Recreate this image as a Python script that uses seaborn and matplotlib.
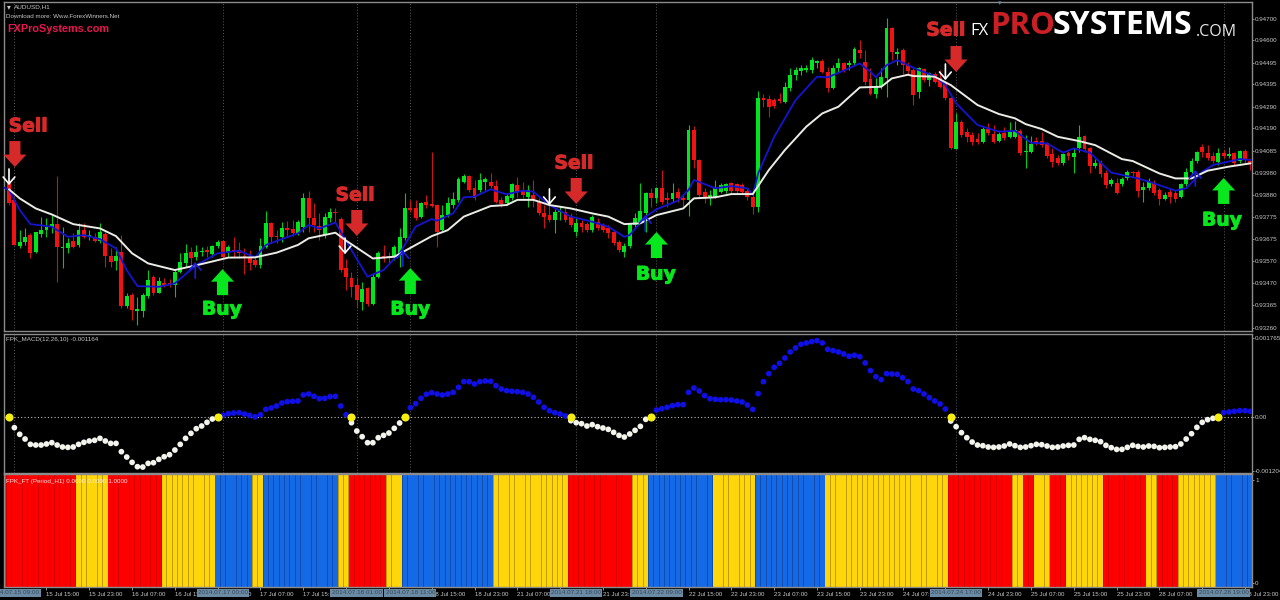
import numpy as np
import pandas as pd
import matplotlib
matplotlib.use("Agg")
import matplotlib.pyplot as plt
import matplotlib.patheffects as pe
import seaborn as sns

# ---- candle data, price in points (1e-5) ----
opens = [93942,93857,93643,93659,93693,93615,93696,93716,93729,93744,
93631,93631,93667,93647,93716,93688,93682,93667,93696,93595,
93572,93615,93362,93414,93341,93341,93409,93499,93424,93471,
93468,93460,93522,93561,93615,93589,93612,93623,93605,93642,
93665,93615,93623,93623,93595,93589,93577,93553,93639,93748,
93690,93682,93724,93721,93701,93732,93867,93771,93735,93693,
93771,93802,93766,93538,93494,93460,93383,93445,93370,93499,
93595,93595,93589,93600,93678,93817,93817,93775,93848,93838,
93833,93716,93786,93833,93857,93942,93970,93911,93903,93942,
93942,93921,93857,93841,93864,93926,93903,93872,93880,93848,
93794,93786,93763,93799,93802,93779,93706,93748,93744,93716,
93755,93740,93724,93706,93662,93615,93642,93740,93755,93794,
93890,93864,93911,93864,93859,93895,93864,93857,94182,94043,
93895,93869,93872,93895,93900,93934,93931,93926,93900,93872,
93822,94333,94327,94322,94325,94314,94376,94439,94459,94462,
94462,94493,94505,94454,94376,94470,94493,94485,94496,94555,
94501,94418,94350,94381,94423,94656,94536,94555,94485,94462,
94361,94465,94415,94443,94423,94400,94330,94094,94218,94171,
94159,94139,94128,94187,94164,94133,94167,94148,94151,94179,
94078,94081,94133,94133,94120,94071,94050,94030,94074,94055,
94097,94154,94097,94015,94035,93984,93929,93937,93931,93957,
93988,93988,93903,93911,93934,93903,93861,93895,93887,93872,
93931,93988,94039,94105,94077,94061,94035,94077,94063,94074,
94039,94086,94039]
highs = [93950,93872,93716,93724,93701,93709,93779,93771,93786,93970,
93732,93678,93701,93748,93748,93716,93701,93748,93709,93631,
93639,93693,93421,93421,93406,93421,93530,93507,93499,93491,
93487,93530,93608,93651,93639,93647,93636,93642,93647,93670,
93670,93647,93685,93662,93631,93623,93592,93678,93806,93755,
93716,93755,93760,93763,93763,93890,93898,93841,93794,93794,
93817,93817,93779,93580,93522,93499,93476,93452,93515,93620,
93647,93615,93647,93724,93890,93857,93857,93848,93880,94081,
93838,93833,93872,93895,93965,93977,93973,93950,93984,93965,
93980,93950,93872,93887,93934,93965,93942,93926,93950,93864,
93833,93833,93813,93828,93817,93794,93779,93763,93755,93786,
93771,93751,93740,93716,93670,93654,93751,93794,93934,93895,
93911,93918,93996,93895,93934,93911,93880,94206,94201,94046,
93911,93903,93950,93934,93937,93942,93937,93934,93911,93887,
94366,94350,94345,94330,94353,94408,94473,94477,94485,94485,
94524,94508,94512,94477,94485,94516,94501,94508,94571,94602,
94555,94470,94423,94470,94703,94664,94563,94563,94501,94470,
94477,94470,94454,94454,94462,94408,94338,94260,94229,94190,
94175,94167,94198,94213,94206,94175,94198,94221,94226,94185,
94159,94154,94151,94175,94128,94097,94066,94077,94086,94097,
94206,94159,94105,94046,94043,93996,93957,93957,93965,93996,
93993,93996,93942,93957,93950,93911,93895,93911,93903,93937,
94004,94050,94086,94117,94112,94081,94097,94089,94105,94081,
94089,94092,94050]
lows = [93833,93645,93631,93647,93584,93608,93685,93685,93701,93476,
93538,93608,93631,93639,93678,93670,93662,93654,93546,93546,
93530,93351,93351,93297,93274,93313,93398,93414,93421,93452,
93449,93406,93515,93546,93538,93577,93595,93592,93592,93631,
93584,93592,93592,93584,93511,93530,93546,93538,93631,93654,
93654,93662,93685,93688,93693,93709,93709,93709,93670,93678,
93755,93748,93522,93437,93406,93351,93344,93362,93367,93491,
93569,93561,93577,93546,93670,93802,93763,93771,93817,93822,
93636,93709,93779,93817,93848,93934,93895,93857,93895,93903,
93911,93841,93825,93833,93857,93872,93864,93825,93825,93786,
93724,93755,93701,93763,93755,93732,93688,93706,93709,93709,
93716,93709,93678,93647,93615,93589,93631,93732,93748,93709,
93825,93841,93838,93825,93848,93848,93817,93782,94004,93872,
93841,93833,93864,93887,93890,93887,93887,93884,93857,93791,
93802,94291,94244,94283,94307,94307,94366,94415,94439,94454,
94446,94470,94446,94361,94372,94454,94454,94462,94485,94516,
94392,94345,94330,94372,94338,94508,94485,94443,94439,94299,
94330,94408,94387,94400,94376,94322,94092,94092,94151,94128,
94112,94117,94120,94159,94120,94128,94136,94144,94144,94066,
94004,94077,94112,94105,94050,94011,94019,94019,94043,93980,
94081,94081,93980,94004,93965,93911,93921,93884,93921,93950,
93965,93872,93848,93903,93880,93833,93857,93844,93848,93864,
93921,93977,94027,94058,94043,94027,94019,94050,94050,94019,
94027,94027,93996]
closes = [93841,93647,93662,93685,93611,93706,93716,93732,93744,93636,
93639,93657,93639,93716,93685,93693,93667,93706,93595,93569,
93597,93362,93409,93344,93347,93414,93483,93421,93479,93460,
93460,93519,93569,93611,93584,93615,93620,93612,93642,93662,
93592,93636,93615,93608,93584,93561,93553,93643,93748,93685,
93682,93727,93716,93701,93755,93867,93771,93740,93716,93775,
93799,93794,93530,93496,93449,93390,93440,93372,93499,93608,
93584,93584,93639,93685,93817,93810,93771,93841,93833,93828,
93709,93786,93841,93861,93953,93970,93903,93864,93950,93953,
93921,93848,93838,93876,93931,93895,93880,93903,93857,93794,
93775,93763,93802,93806,93763,93740,93751,93732,93716,93775,
93724,93716,93701,93657,93623,93643,93744,93771,93806,93887,
93864,93911,93848,93857,93890,93864,93857,94182,94043,93880,
93869,93880,93911,93926,93931,93900,93900,93895,93869,93825,
94330,94322,94291,94294,94317,94384,94439,94462,94470,94470,
94508,94505,94454,94376,94470,94493,94462,94493,94558,94540,
94408,94350,94381,94428,94656,94547,94547,94485,94459,94345,
94470,94415,94446,94408,94381,94330,94097,94218,94159,94151,
94128,94128,94187,94167,94128,94164,94144,94175,94182,94077,
94086,94117,94123,94112,94061,94035,94027,94071,94061,94074,
94151,94094,94016,94030,93976,93926,93950,93890,93953,93988,
93980,93900,93918,93942,93890,93861,93880,93872,93861,93931,
93988,94039,94081,94078,94050,94039,94077,94061,94071,94027,
94086,94043,94024]

# ---- moving averages (sampled along the curves) ----
white_bars = [0,2,5,8,12,17,20,23,26,31,36,41,46,50,54,56,61,63,68,72,79,82,85,90,93,95,98,101,105,109,112,115,118,121,126,128,132,135,139,142,145,149,152,155,159,163,165,168,169,173,176,181,185,188,190,193,196,200,203,208,210,215,218,221,224,228,232]
white_ma = [93906,93864,93817,93789,93744,93724,93688,93608,93561,93530,93558,93588,93589,93611,93647,93678,93704,93667,93584,93592,93688,93716,93779,93828,93833,93857,93857,93833,93817,93794,93779,93744,93748,93786,93817,93864,93869,93884,93884,93996,94089,94198,94260,94291,94381,94384,94423,94440,94434,94431,94392,94299,94257,94237,94210,94187,94151,94131,94112,94047,94038,93980,93957,93957,93993,94012,94027]
blue_bars = [-1,0,2,4,8,11,14,17,20,22,24,28,31,35,39,43,46,48,54,56,58,61,64,67,70,73,76,79,80,83,85,87,90,93,96,98,101,105,109,112,115,116,119,121,125,127,128,132,135,138,139,140,143,147,151,153,157,159,161,162,164,166,168,170,173,175,177,181,185,188,191,194,197,199,202,206,211,213,218,220,223,225,230,232]
blue_ma = [93915,93903,93810,93744,93732,93685,93693,93674,93631,93530,93455,93452,93468,93553,93608,93620,93589,93647,93701,93740,93724,93751,93623,93499,93530,93608,93732,93768,93760,93794,93869,93872,93906,93883,93900,93895,93833,93779,93755,93732,93685,93693,93779,93813,93853,93903,93950,93911,93921,93911,93880,93980,94151,94322,94431,94428,94470,94493,94454,94428,94485,94508,94485,94462,94434,94392,94307,94206,94175,94179,94123,94120,94077,94097,94077,93984,93957,93942,93900,93911,93988,94019,94047,94043]

# ---- MACD, in 1e-6 ----
macd = [0,-238,-387,-492,-611,-626,-626,-603,-574,-626,-670,-678,-670,-611,-566,-536,-521,-477,-536,-589,-589,-775,-894,-1013,-1110,-1118,-1036,-1021,-946,-887,-842,-738,-611,-477,-365,-261,-201,-119,-45,0,
37,75,89,97,67,37,4,52,171,201,246,313,343,350,358,492,514,462,410,417,454,462,246,52,-127,-313,-440,-574,-574,-462,-410,-358,-253,-134,0,
209,298,417,507,544,514,492,514,551,663,790,790,738,790,805,797,700,626,589,574,566,551,514,440,335,216,142,97,67,22,-82,-127,-149,-201,-171,-216,-246,-276,-343,-410,-447,-380,-298,-209,-52,0,
156,186,216,253,276,276,551,648,581,477,410,395,387,387,380,358,335,268,171,522,790,969,1110,1199,1319,1453,1542,1624,1654,1684,1706,1654,1512,1483,1453,1408,1356,1378,1348,1207,1036,901,834,969,961,954,879,790,626,589,514,432,358,291,179,-89,
-216,-350,-462,-559,-626,-641,-670,-678,-670,-648,-603,-641,-678,-670,-641,-611,-618,-648,-678,-670,-648,-633,-626,-499,-462,-499,-521,-551,-633,-685,-723,-723,-678,-633,-656,-670,-648,-656,-685,-678,-670,-663,-603,-492,-373,-231,-119,-60,-30,-8,
97,112,127,142,142,127]
macd_cross_bars = [0,39,64,74,105,120,176,226]

# ---- FT histogram runs, first bar sits left of the first candle ----
ft_states = ["blue","red","yellow","red","yellow","blue","yellow","blue","yellow","red","yellow","blue","yellow","red","yellow","blue","yellow","blue","yellow","red","yellow","red","yellow","red","yellow","red","yellow","red","yellow","blue"]
ft_runs   = [1,13,6,10,10,7,2,14,2,7,3,17,14,12,3,12,8,13,23,12,2,2,3,3,7,8,2,4,7,7]

# ---- axes text ----
price_ticks = [0.94700,0.94600,0.94495,0.94395,0.94290,0.94190,0.94085,0.93980,0.93880,0.93775,0.93675,0.93570,0.93470,0.93365,0.93260]
date_bars = [7,15,23,31,39,47,55,63,71,79,87,95,103,111,119,127,135,143,151,159,167,175,183,191,199,207,215,223,231]
date_labels = ["15 Jul 15:00","15 Jul 23:00","16 Jul 07:00","16 Jul 15:00","16 Jul 23:00","17 Jul 07:00","17 Jul 15:00","17 Jul 23:00","18 Jul 07:00","18 Jul 15:00","18 Jul 23:00","21 Jul 07:00","21 Jul 15:00","21 Jul 23:00","22 Jul 07:00","22 Jul 15:00","22 Jul 23:00","23 Jul 07:00","23 Jul 15:00","23 Jul 23:00","24 Jul 07:00","24 Jul 15:00","24 Jul 23:00","25 Jul 07:00","25 Jul 15:00","25 Jul 23:00","28 Jul 07:00","28 Jul 15:00","28 Jul 23:00"]
grid_bars = [1,40,65,75,106,121,177,227]
grid_labels = ["2014.07.15 09:00","2014.07.17 00:00","2014.07.18 01:00","2014.07.18 11:00","2014.07.21 18:00","2014.07.22 09:00","2014.07.24 17:00","2014.07.28 19:00"]

# ---- signals: arrow tip bar and price, text bar and price ----
sell_bars = [1.1,65,106,177];  sell_tips = [94010,93689,93838,94453]
sell_text_bars = [3.6,64.7,105.6,175.1]; sell_text_prices = [94201,93879,94028,94648]
buy_bars = [39.9,75,121,227];  buy_tips = [93534,93539,93707,93959]
buy_text_bars = [39.8,75,120.9,226.7]; buy_text_prices = [93348,93348,93511,93763]
white_sig_bars = [0,62.8,101,175]; white_sig_tips = [93926,93604,93833,94415]
blue_sig_bars = [34.8,73.6,118.9,221.7]; blue_sig_tips = [93567,93623,93786,93996]

# ---- styling ----
BG = "#000000"; EDGE = "#8c8c8c"; TXT = "#c8c8c8"
RED = "#f21212"; GRN = "#00e51e"
sns.set_theme(style="dark", rc={"axes.facecolor": BG, "figure.facecolor": BG,
                                "axes.edgecolor": EDGE, "axes.grid": False})
plt.rcParams["font.family"] = ["Liberation Sans", "DejaVu Sans"]

W, H = 1280, 600
SMALL = 4.5
fig = plt.figure(figsize=(W/100, H/100), dpi=100, facecolor=BG)
def pane(top, bottom, left=4, right=1252):
    return fig.add_axes([left/W, 1-bottom/H, (right-left)/W, (bottom-top)/H])
ax = pane(2, 331); ax2 = pane(334, 473); ax3 = pane(474, 587)

idx = np.arange(len(closes))
o, h, l, c = [np.array(a)/1e5 for a in (opens, highs, lows, closes)]
cols = np.where(c >= o, GRN, RED)
wick = np.where(c >= o, "#00c81a", "#c81414")
XLIM = (-0.935, 232.3)

# main pane
for g in grid_bars:
    for a in (ax, ax2):
        a.axvline(g, color="#5a5a5a", ls=(0, (1, 2)), lw=0.7, zorder=0)
ax.vlines(idx, l, h, colors=wick, lw=0.8, zorder=2)
ax.bar(idx, np.abs(c-o), bottom=np.minimum(o, c), width=0.72, color=cols, lw=0, zorder=3)
sns.lineplot(x=blue_bars, y=np.array(blue_ma)/1e5, color="#1414d2", lw=1.3, ax=ax, zorder=4, errorbar=None)
sns.lineplot(x=white_bars, y=np.array(white_ma)/1e5, color="#ecece6", lw=1.4, ax=ax, zorder=5, errorbar=None)

heavy_r = [pe.withStroke(linewidth=0.7, foreground="#d62a2a")]
heavy_g = [pe.withStroke(linewidth=0.7, foreground="#08e61e")]
for b, p, tb, tp in zip(sell_bars, sell_tips, sell_text_bars, sell_text_prices):
    ax.annotate("", xy=(b, p/1e5), xytext=(b, (p+121)/1e5), zorder=6,
                arrowprops=dict(arrowstyle="simple,head_length=0.9,head_width=1.66,tail_width=0.8",
                                color="#d62a2a", lw=0, mutation_scale=10, shrinkA=0, shrinkB=0))
    ax.text(tb, tp/1e5, "Sell", color="#d62a2a", fontsize=13.5, fontweight="bold",
            family="DejaVu Sans", ha="center", va="center", zorder=7, path_effects=heavy_r)
for b, p, tb, tp in zip(buy_bars, buy_tips, buy_text_bars, buy_text_prices):
    ax.annotate("", xy=(b, p/1e5), xytext=(b, (p-121)/1e5), zorder=6,
                arrowprops=dict(arrowstyle="simple,head_length=0.9,head_width=1.66,tail_width=0.8",
                                color="#08e61e", lw=0, mutation_scale=10, shrinkA=0, shrinkB=0))
    ax.text(tb, tp/1e5, "Buy", color="#08e61e", fontsize=13.5, fontweight="bold",
            family="DejaVu Sans", ha="center", va="center", zorder=7, path_effects=heavy_g)
for b, p in zip(white_sig_bars, white_sig_tips):
    ax.annotate("", xy=(b, p/1e5), xytext=(b, (p+75)/1e5), zorder=8,
                arrowprops=dict(arrowstyle="->,head_length=0.35,head_width=0.3", color="white",
                                lw=1.2, mutation_scale=14, shrinkA=0, shrinkB=0))
for b, p in zip(blue_sig_bars, blue_sig_tips):
    ax.annotate("", xy=(b, p/1e5), xytext=(b, (p-75)/1e5), zorder=8,
                arrowprops=dict(arrowstyle="->,head_length=0.35,head_width=0.3", color="#1c1ce0",
                                lw=1.2, mutation_scale=14, shrinkA=0, shrinkB=0))
ax.set_ylim(0.93246, 0.94779)
ax.set_yticks(price_ticks, [f"{t:.5f}" for t in price_ticks])

# MACD pane
macd_v = np.array(macd)/1e6
macd_state = np.where(macd_v > 0, "up", "down")
ax2.axhline(0, color="#bdbdbd", ls=(0, (1, 2)), lw=0.8, zorder=1)
sns.scatterplot(x=idx, y=macd_v, hue=macd_state, palette={"up": "#1010e6", "down": "#f4f4ee"},
                s=17, linewidth=0, legend=False, ax=ax2, zorder=3)
sns.scatterplot(x=macd_cross_bars, y=np.zeros(len(macd_cross_bars)), color="#f5ee10",
                s=34, linewidth=0, legend=False, ax=ax2, zorder=4)
ax2.set_ylim(-0.001251, 0.001854)
ax2.set_yticks([0.001765, 0, -0.001204], ["0.001765", "0.00", "-0.001204"])

# FT pane
ft = np.repeat(ft_states, ft_runs)
ft_idx = np.arange(-1, len(ft)-1)
ft_df = pd.DataFrame({"bar": ft_idx, "level": np.full(len(ft), 1.1), "state": ft})
sns.barplot(data=ft_df, x="bar", y="level", hue="state", native_scale=True, dodge=False, width=1.0,
            palette={"red": "#d60000", "yellow": "#c09c06", "blue": "#0f4cae"}, bottom=-0.04,
            saturation=1, linewidth=0, legend=False, ax=ax3, zorder=1)
sns.barplot(data=ft_df, x="bar", y="level", hue="state", native_scale=True, dodge=False, width=0.84,
            palette={"red": "#ff0000", "yellow": "#ffd60a", "blue": "#1469e6"}, bottom=-0.04,
            saturation=1, linewidth=0, legend=False, ax=ax3, zorder=2)
ax3.set_ylim(-0.039, 1.058)
ax3.set_yticks([0, 1], ["0", "1"])
ax3.set_xlabel(""); ax3.set_ylabel("")

for a in (ax, ax2, ax3):
    a.set_xlim(*XLIM)
    a.yaxis.tick_right()
    a.tick_params(axis="y", colors=TXT, labelsize=SMALL, length=1.5, width=0.5, pad=0.8, direction="out", right=True)
    for s in a.spines.values():
        s.set_color(EDGE); s.set_linewidth(1.0)
    a.set_xlabel(""); a.set_ylabel("")
for a in (ax, ax2):
    a.set_xticks([])

ax3.set_xticks(date_bars, date_labels, ha="left")
ax3.tick_params(axis="x", colors=TXT, labelsize=4.4, length=2, width=0.5, pad=1.8, bottom=True)
for g, lab in zip(grid_bars, grid_labels):
    ax3.text(g, -0.053, lab, transform=ax3.get_xaxis_transform(), ha="center", va="center",
             fontsize=4.6, color="#33495c", clip_on=False, zorder=20,
             bbox=dict(boxstyle="square,pad=0.2", fc="#6b8aa3", ec="none"))

def ptext(x, y, s, **kw):
    fig.text(x/W, 1-y/H, s, va="center", **kw)
ptext(7, 7, "▾", color=TXT, fontsize=5.5, family="DejaVu Sans")
ptext(14, 7, "AUDUSD,H1", color=TXT, fontsize=4.6)
ptext(6, 16, "Download more: Www.ForexWinners.Net", color=TXT, fontsize=4.5)
ptext(7, 29, "FXProSystems.com", color="#ea1450", fontsize=7.8, fontweight="bold")
ptext(6, 340, "FPK_MACD(12,26,10) -0.001164", color=TXT, fontsize=4.5)
ptext(6, 481, "FPK_FT (Period_H1) 0.0000 0.0000 1.0000", color="#f0e8e8", fontsize=4.5, zorder=30)
ptext(1000, 3, "▾", color="#6b8aa3", fontsize=5, family="DejaVu Sans", ha="center")

# logo
logo = dict(family="Open Sans")
ptext(970, 31, "FX", color="white", fontsize=12, **logo)
ptext(990, 26, "PRO", color="#c91f25", fontsize=22.5, fontweight="bold", **logo)
ptext(1053, 26, "SYSTEMS", color="white", fontsize=23, fontweight="bold", **logo)
ptext(1196, 32, ".COM", color="#e8e8e8", fontsize=11.5, **logo)

fig.savefig("out.png", dpi=100, facecolor=BG)
